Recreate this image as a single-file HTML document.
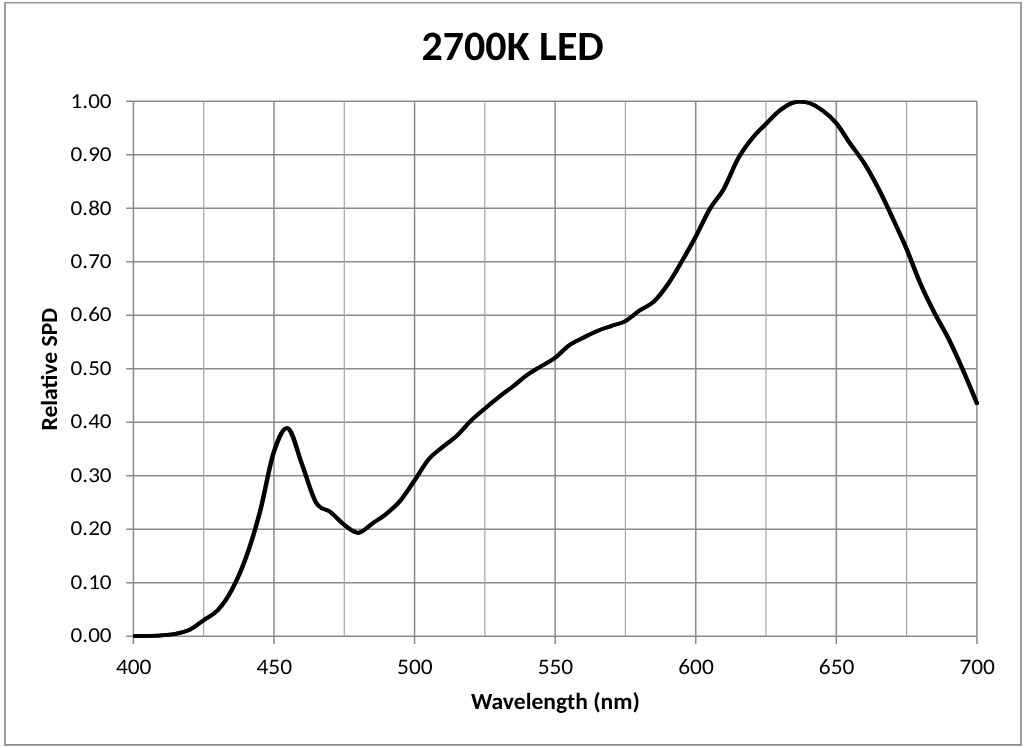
<!DOCTYPE html>
<html lang="en">
<head>
<meta charset="utf-8">
<title>2700K LED</title>
<style>
html,body{margin:0;padding:0;background:#fff;}
body{width:1024px;height:748px;overflow:hidden;}
svg{display:block;}
text{font-family:Carlito,"Liberation Sans",sans-serif;fill:#000;text-rendering:geometricPrecision;font-size-adjust:0.4775;}
.b{font-weight:bold;font-size-adjust:0.4849;}
</style>
</head>
<body>
<svg width="1024" height="748" viewBox="0 0 1024 748">
<rect x="0" y="0" width="1024" height="748" fill="#ffffff"/>
<g fill="none" stroke="#8c8c8c" stroke-width="1.7"><path d="M5 2 V745.65" /><path d="M1021 2 V745.65"/><path d="M4.15 744.85 H1021.85" stroke-width="1.6"/><path d="M4.15 2.7 H1021.85" stroke="#979797" stroke-width="1.4"/></g>
<g shape-rendering="geometricPrecision">
<line x1="126.20" y1="101.35" x2="976.90" y2="101.35" stroke="#8a8a8a" stroke-width="1.5"/>
<line x1="126.20" y1="154.83" x2="976.90" y2="154.83" stroke="#8a8a8a" stroke-width="1.5"/>
<line x1="126.20" y1="208.31" x2="976.90" y2="208.31" stroke="#8a8a8a" stroke-width="1.5"/>
<line x1="126.20" y1="261.79" x2="976.90" y2="261.79" stroke="#8a8a8a" stroke-width="1.5"/>
<line x1="126.20" y1="315.27" x2="976.90" y2="315.27" stroke="#8a8a8a" stroke-width="1.5"/>
<line x1="126.20" y1="368.75" x2="976.90" y2="368.75" stroke="#8a8a8a" stroke-width="1.5"/>
<line x1="126.20" y1="422.23" x2="976.90" y2="422.23" stroke="#8a8a8a" stroke-width="1.5"/>
<line x1="126.20" y1="475.71" x2="976.90" y2="475.71" stroke="#8a8a8a" stroke-width="1.5"/>
<line x1="126.20" y1="529.19" x2="976.90" y2="529.19" stroke="#8a8a8a" stroke-width="1.5"/>
<line x1="126.20" y1="582.67" x2="976.90" y2="582.67" stroke="#8a8a8a" stroke-width="1.5"/>
<line x1="126.20" y1="636.15" x2="976.90" y2="636.15" stroke="#8a8a8a" stroke-width="1.5"/>
<line x1="133.40" y1="101.35" x2="133.40" y2="643.95" stroke="#8a8a8a" stroke-width="1.5"/>
<line x1="273.98" y1="101.35" x2="273.98" y2="643.95" stroke="#8a8a8a" stroke-width="1.5"/>
<line x1="414.57" y1="101.35" x2="414.57" y2="643.95" stroke="#8a8a8a" stroke-width="1.5"/>
<line x1="555.15" y1="101.35" x2="555.15" y2="643.95" stroke="#8a8a8a" stroke-width="1.5"/>
<line x1="695.73" y1="101.35" x2="695.73" y2="643.95" stroke="#8a8a8a" stroke-width="1.5"/>
<line x1="836.32" y1="101.35" x2="836.32" y2="643.95" stroke="#8a8a8a" stroke-width="1.5"/>
<line x1="976.90" y1="101.35" x2="976.90" y2="643.95" stroke="#8a8a8a" stroke-width="1.5"/>
<line x1="203.69" y1="101.35" x2="203.69" y2="636.15" stroke="#a4a4a4" stroke-width="1.2"/>
<line x1="344.27" y1="101.35" x2="344.27" y2="636.15" stroke="#a4a4a4" stroke-width="1.2"/>
<line x1="484.86" y1="101.35" x2="484.86" y2="636.15" stroke="#a4a4a4" stroke-width="1.2"/>
<line x1="625.44" y1="101.35" x2="625.44" y2="636.15" stroke="#a4a4a4" stroke-width="1.2"/>
<line x1="766.02" y1="101.35" x2="766.02" y2="636.15" stroke="#a4a4a4" stroke-width="1.2"/>
<line x1="906.61" y1="101.35" x2="906.61" y2="636.15" stroke="#a4a4a4" stroke-width="1.2"/>
</g>
<clipPath id="plotclip"><rect x="133.30" y="100.25" width="845.70" height="538.20"/></clipPath>
<g clip-path="url(#plotclip)" fill="none" stroke="#000" stroke-width="3.70" stroke-linecap="round" stroke-linejoin="round"><path id="spd" d="M133.40 636.05 C135.74 636.03 142.77 636.05 147.46 635.95 C152.14 635.85 156.83 635.82 161.52 635.46 C166.20 635.10 170.89 634.74 175.57 633.79 C180.26 632.84 184.95 632.00 189.63 629.74 C194.32 627.48 199.01 623.45 203.69 620.20 C208.38 616.95 213.06 615.31 217.75 610.25 C222.44 605.19 227.12 598.56 231.81 589.83 C236.49 581.10 241.18 570.84 245.87 557.86 C250.55 544.88 255.24 529.65 259.93 511.94 C264.61 494.23 269.30 465.49 273.98 451.58 C278.67 437.67 283.36 426.30 288.04 428.47 C292.73 430.64 297.41 452.21 302.10 464.59 C306.79 476.97 311.47 494.88 316.16 502.76 C320.84 510.64 325.53 508.18 330.22 511.85 C334.90 515.52 339.59 521.30 344.27 524.81 C348.96 528.32 353.65 533.11 358.33 532.89 C363.02 532.67 367.71 526.69 372.39 523.51 C377.08 520.33 381.76 517.62 386.45 513.78 C391.14 509.94 395.82 506.05 400.51 500.49 C405.19 494.93 409.88 487.25 414.57 480.40 C419.25 473.55 423.94 464.95 428.62 459.39 C433.31 453.82 438.00 450.93 442.68 447.01 C447.37 443.09 452.06 440.23 456.74 435.87 C461.43 431.51 466.11 425.42 470.80 420.87 C475.49 416.32 480.17 412.57 484.86 408.59 C489.54 404.61 494.23 400.69 498.92 396.99 C503.60 393.29 508.29 390.05 512.98 386.40 C517.66 382.75 522.35 378.48 527.03 375.11 C531.72 371.75 536.41 369.10 541.09 366.21 C545.78 363.32 550.46 361.25 555.15 357.76 C559.84 354.27 564.52 348.61 569.21 345.27 C573.89 341.93 578.58 340.12 583.27 337.73 C587.95 335.34 592.64 332.89 597.33 330.93 C602.01 328.97 606.70 327.63 611.38 325.98 C616.07 324.33 620.76 323.59 625.44 321.02 C630.13 318.45 634.81 313.73 639.50 310.55 C644.19 307.37 648.87 306.26 653.56 301.95 C658.24 297.64 662.93 291.38 667.62 284.67 C672.30 277.96 676.99 269.66 681.67 261.66 C686.36 253.66 691.05 245.43 695.73 236.65 C700.42 227.87 705.11 216.95 709.79 208.98 C714.48 201.00 719.16 197.16 723.85 188.80 C728.54 180.44 733.22 167.19 737.91 158.82 C742.59 150.45 747.28 144.42 751.97 138.60 C756.65 132.78 761.34 128.60 766.02 123.88 C770.71 119.16 775.40 113.88 780.08 110.29 C784.77 106.70 789.46 103.59 794.14 102.34 C798.83 101.09 803.51 101.45 808.20 102.78 C812.89 104.11 817.57 106.89 822.26 110.30 C826.94 113.71 831.63 117.64 836.32 123.24 C841.00 128.84 845.69 137.16 850.38 143.87 C855.06 150.58 859.75 156.04 864.43 163.51 C869.12 170.98 873.81 179.64 878.49 188.70 C883.18 197.76 887.86 207.81 892.55 217.86 C897.24 227.91 901.92 237.90 906.61 248.97 C911.29 260.04 915.98 273.52 920.67 284.26 C925.35 295.00 930.04 304.27 934.73 313.42 C939.41 322.57 944.10 329.77 948.78 339.15 C953.47 348.53 958.16 359.05 962.84 369.72 C967.53 380.40 974.56 397.62 976.90 403.20" transform="translate(-0.40 0)"/><path d="M133.40 636.05 C135.74 636.03 142.77 636.05 147.46 635.95 C152.14 635.85 156.83 635.82 161.52 635.46 C166.20 635.10 170.89 634.74 175.57 633.79 C180.26 632.84 184.95 632.00 189.63 629.74 C194.32 627.48 199.01 623.45 203.69 620.20 C208.38 616.95 213.06 615.31 217.75 610.25 C222.44 605.19 227.12 598.56 231.81 589.83 C236.49 581.10 241.18 570.84 245.87 557.86 C250.55 544.88 255.24 529.65 259.93 511.94 C264.61 494.23 269.30 465.49 273.98 451.58 C278.67 437.67 283.36 426.30 288.04 428.47 C292.73 430.64 297.41 452.21 302.10 464.59 C306.79 476.97 311.47 494.88 316.16 502.76 C320.84 510.64 325.53 508.18 330.22 511.85 C334.90 515.52 339.59 521.30 344.27 524.81 C348.96 528.32 353.65 533.11 358.33 532.89 C363.02 532.67 367.71 526.69 372.39 523.51 C377.08 520.33 381.76 517.62 386.45 513.78 C391.14 509.94 395.82 506.05 400.51 500.49 C405.19 494.93 409.88 487.25 414.57 480.40 C419.25 473.55 423.94 464.95 428.62 459.39 C433.31 453.82 438.00 450.93 442.68 447.01 C447.37 443.09 452.06 440.23 456.74 435.87 C461.43 431.51 466.11 425.42 470.80 420.87 C475.49 416.32 480.17 412.57 484.86 408.59 C489.54 404.61 494.23 400.69 498.92 396.99 C503.60 393.29 508.29 390.05 512.98 386.40 C517.66 382.75 522.35 378.48 527.03 375.11 C531.72 371.75 536.41 369.10 541.09 366.21 C545.78 363.32 550.46 361.25 555.15 357.76 C559.84 354.27 564.52 348.61 569.21 345.27 C573.89 341.93 578.58 340.12 583.27 337.73 C587.95 335.34 592.64 332.89 597.33 330.93 C602.01 328.97 606.70 327.63 611.38 325.98 C616.07 324.33 620.76 323.59 625.44 321.02 C630.13 318.45 634.81 313.73 639.50 310.55 C644.19 307.37 648.87 306.26 653.56 301.95 C658.24 297.64 662.93 291.38 667.62 284.67 C672.30 277.96 676.99 269.66 681.67 261.66 C686.36 253.66 691.05 245.43 695.73 236.65 C700.42 227.87 705.11 216.95 709.79 208.98 C714.48 201.00 719.16 197.16 723.85 188.80 C728.54 180.44 733.22 167.19 737.91 158.82 C742.59 150.45 747.28 144.42 751.97 138.60 C756.65 132.78 761.34 128.60 766.02 123.88 C770.71 119.16 775.40 113.88 780.08 110.29 C784.77 106.70 789.46 103.59 794.14 102.34 C798.83 101.09 803.51 101.45 808.20 102.78 C812.89 104.11 817.57 106.89 822.26 110.30 C826.94 113.71 831.63 117.64 836.32 123.24 C841.00 128.84 845.69 137.16 850.38 143.87 C855.06 150.58 859.75 156.04 864.43 163.51 C869.12 170.98 873.81 179.64 878.49 188.70 C883.18 197.76 887.86 207.81 892.55 217.86 C897.24 227.91 901.92 237.90 906.61 248.97 C911.29 260.04 915.98 273.52 920.67 284.26 C925.35 295.00 930.04 304.27 934.73 313.42 C939.41 322.57 944.10 329.77 948.78 339.15 C953.47 348.53 958.16 359.05 962.84 369.72 C967.53 380.40 974.56 397.62 976.90 403.20" transform="translate(0.40 0)"/></g>
<text class="b" x="512.70" y="59.90" font-size="41.80" text-anchor="middle" textLength="182.34" lengthAdjust="spacingAndGlyphs">2700K LED</text>
<text class="b" x="555.40" y="708.70" font-size="23.00" text-anchor="middle" textLength="168.78" lengthAdjust="spacingAndGlyphs">Wavelength (nm)</text>
<text class="b" transform="translate(56.90 369.20) rotate(-90)" font-size="23.10" text-anchor="middle" textLength="122.62" lengthAdjust="spacingAndGlyphs">Relative SPD</text>
<text x="111.60" y="107.55" font-size="21.30" text-anchor="end" textLength="41.00" lengthAdjust="spacingAndGlyphs">1.00</text>
<text x="111.60" y="161.03" font-size="21.30" text-anchor="end" textLength="41.00" lengthAdjust="spacingAndGlyphs">0.90</text>
<text x="111.60" y="214.51" font-size="21.30" text-anchor="end" textLength="41.00" lengthAdjust="spacingAndGlyphs">0.80</text>
<text x="111.60" y="267.99" font-size="21.30" text-anchor="end" textLength="41.00" lengthAdjust="spacingAndGlyphs">0.70</text>
<text x="111.60" y="321.47" font-size="21.30" text-anchor="end" textLength="41.00" lengthAdjust="spacingAndGlyphs">0.60</text>
<text x="111.60" y="374.95" font-size="21.30" text-anchor="end" textLength="41.00" lengthAdjust="spacingAndGlyphs">0.50</text>
<text x="111.60" y="428.43" font-size="21.30" text-anchor="end" textLength="41.00" lengthAdjust="spacingAndGlyphs">0.40</text>
<text x="111.60" y="481.91" font-size="21.30" text-anchor="end" textLength="41.00" lengthAdjust="spacingAndGlyphs">0.30</text>
<text x="111.60" y="535.39" font-size="21.30" text-anchor="end" textLength="41.00" lengthAdjust="spacingAndGlyphs">0.20</text>
<text x="111.60" y="588.87" font-size="21.30" text-anchor="end" textLength="41.00" lengthAdjust="spacingAndGlyphs">0.10</text>
<text x="111.60" y="642.35" font-size="21.30" text-anchor="end" textLength="41.00" lengthAdjust="spacingAndGlyphs">0.00</text>
<text x="133.70" y="673.80" font-size="22.30" text-anchor="middle" textLength="35.60" lengthAdjust="spacingAndGlyphs">400</text>
<text x="274.28" y="673.80" font-size="22.30" text-anchor="middle" textLength="35.60" lengthAdjust="spacingAndGlyphs">450</text>
<text x="414.87" y="673.80" font-size="22.30" text-anchor="middle" textLength="35.60" lengthAdjust="spacingAndGlyphs">500</text>
<text x="555.45" y="673.80" font-size="22.30" text-anchor="middle" textLength="35.60" lengthAdjust="spacingAndGlyphs">550</text>
<text x="696.03" y="673.80" font-size="22.30" text-anchor="middle" textLength="35.60" lengthAdjust="spacingAndGlyphs">600</text>
<text x="836.62" y="673.80" font-size="22.30" text-anchor="middle" textLength="35.60" lengthAdjust="spacingAndGlyphs">650</text>
<text x="977.20" y="673.80" font-size="22.30" text-anchor="middle" textLength="35.60" lengthAdjust="spacingAndGlyphs">700</text>
</svg>
</body>
</html>
